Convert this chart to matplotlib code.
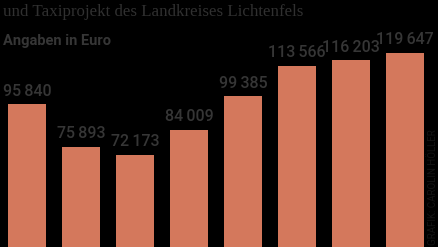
import matplotlib
matplotlib.use('Agg')
import matplotlib.pyplot as plt

# Beträge in Euro, je Jahr (Jahresachse im Ausschnitt nicht sichtbar)
values = [95840, 75893, 72173, 84009, 99385, 113566, 116203, 119647]
labels = ['95\u2009840', '75\u2009893', '72\u2009173', '84\u2009009',
          '99\u2009385', '113\u2009566', '116\u2009203', '119\u2009647']

bar_color = '#d4785c'
text_color = '#363636'
sans = ['Roboto', 'DejaVu Sans']

fig = plt.figure(figsize=(4.39, 2.47), dpi=100, facecolor='black')
# baseline sits below the visible area, as in the cropped original
ax = fig.add_axes([0, -63 / 247, 1, 310 / 247])
ax.set_facecolor('black')

x = range(len(values))
ax.bar(x, values, width=0.72, color=bar_color, linewidth=0)
for i, (v, lab) in enumerate(zip(values, labels)):
    ax.annotate(lab, (i, v), xytext=(0, 4), textcoords='offset points',
                ha='center', va='bottom', color=text_color,
                fontsize=11.5, family=sans, fontweight='medium')

ax.set_xlim(-0.5, 7.63)
ax.set_ylim(0, 144300)
ax.axis('off')

fig.text(3 / 439, 1 - 15.5 / 247, 'und Taxiprojekt des Landkreises Lichtenfels',
         family='Liberation Serif', fontsize=12.2, color='#303030',
         ha='left', va='baseline')
fig.text(3 / 439, 1 - 45 / 247, 'Angaben in Euro',
         family='Roboto', fontweight='bold', fontsize=10.5, color=text_color,
         ha='left', va='baseline')
fig.text(433 / 439, 1 - 245 / 247, 'GRAFIK: CAROLIN HÖLLER',
         family=sans, fontsize=7, color='#141414',
         rotation=90, ha='center', va='bottom')

fig.savefig('out.png', dpi=100, facecolor='black')
